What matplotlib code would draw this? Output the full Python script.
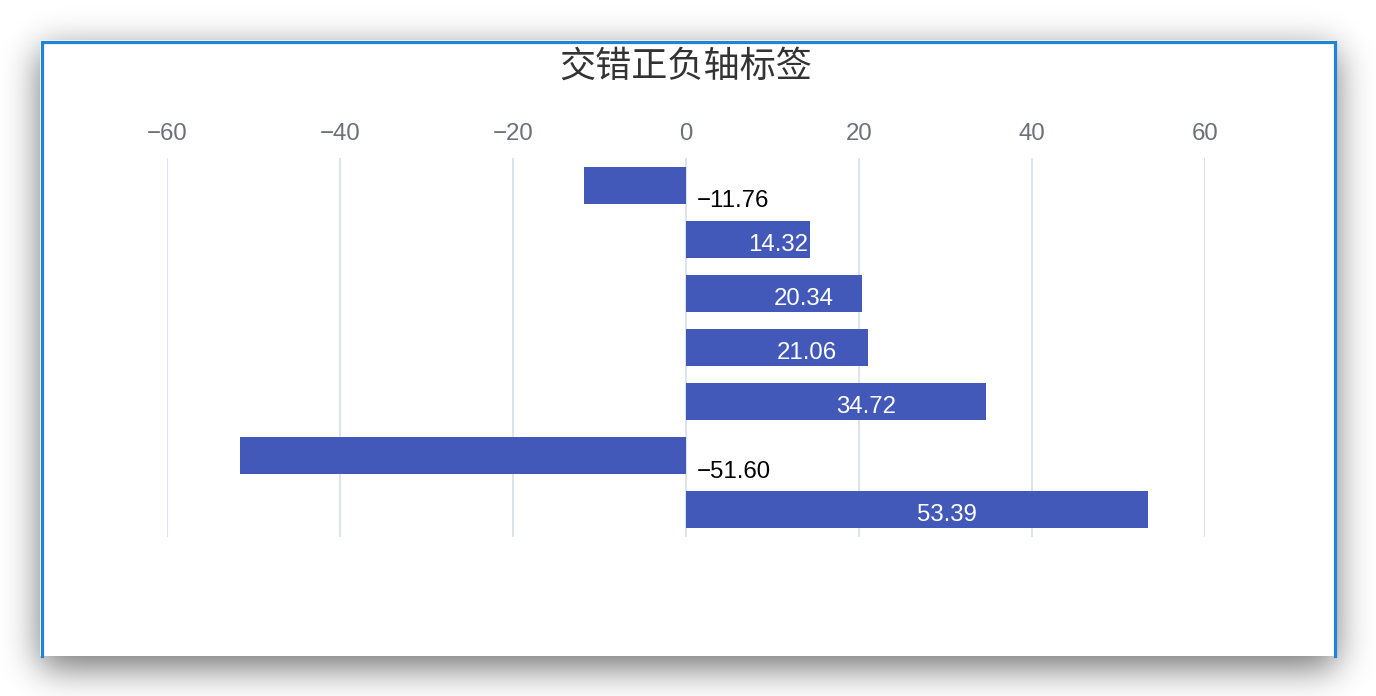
import math
import numpy as np
import matplotlib
matplotlib.use("Agg")
import matplotlib.pyplot as plt

# ---- data ----
values = [-11.76, 14.32, 20.34, 21.06, 34.72, -51.60, 53.39]
x_ticks = [-60, -40, -20, 0, 20, 40, 60]
title = "交错正负轴标签"

W, H = 1376, 696
fig = plt.figure(figsize=(W / 100, H / 100), dpi=100)
fig.patch.set_facecolor("white")

# ---- background: shadow + card ----
bg = fig.add_axes([0, 0, 1, 1])
bg.set_xlim(0, W)
bg.set_ylim(H, 0)
bg.axis("off")

erf = np.vectorize(math.erf)
def box1d(coords, lo, hi, sigma):
    return 0.5 * (erf((coords - lo) / (sigma * math.sqrt(2))) - erf((coords - hi) / (sigma * math.sqrt(2))))

xs = np.arange(W) + 0.5
ys = np.arange(H) + 0.5
fx = box1d(xs, 40, 1336, 18)
fy = box1d(ys, 50, 668, 18)
alpha = 0.55 * np.outer(fy, fx)
img = np.zeros((H, W, 4))
img[..., 3] = alpha
bg.imshow(img, extent=(0, W, H, 0), interpolation="bilinear", zorder=0)
bg.add_patch(plt.Rectangle((40, 40), 1296, 616, facecolor="white", edgecolor="none", zorder=1))
border = "#1f84d4"
bg.plot([41.5, 41.5, 1334.5, 1334.5], [656, 41.5, 41.5, 656], color=border, lw=2.3,
        solid_joinstyle="miter", zorder=2)

fig.text(686 / W, 1 - 67 / H, title, ha="center", va="center", fontsize=26,
         color="#333333", family=["Noto Sans CJK SC", "DejaVu Sans"])

# ---- chart ----
left, right = 167 / W, 1205 / W
top, bottom = 1 - 158 / H, 1 - 537 / H
ax = fig.add_axes([left, bottom, right - left, top - bottom])
ax.set_facecolor("none")

n = len(values)
pos = np.arange(n)
ax.barh(pos, values, height=0.685, color="#4259ba", zorder=3)
ax.set_xlim(-60, 60)
ax.set_ylim(n - 0.5, -0.5)

ax.set_xticks(x_ticks)
ax.set_xticklabels([str(t).replace("-", "\u2212") for t in x_ticks],
                   family=["Liberation Sans", "DejaVu Sans"], fontsize=17.3, color="#6e7079")
ax.xaxis.tick_top()
ax.tick_params(axis="x", length=0, pad=9.5)
ax.set_yticks([])
for s in ax.spines.values():
    s.set_visible(False)
ax.grid(axis="x", color="#dce3ee", linewidth=1.4, zorder=0)
ax.set_axisbelow(True)

for i, v in enumerate(values):
    txt = f"{v:.2f}".replace("-", "\u2212")
    if v >= 0:
        ax.annotate(txt, (v / 2, i), xytext=(0, -8.3), textcoords="offset points",
                    ha="left", va="baseline", color="white", fontsize=17.3,
                    family=["Liberation Sans", "DejaVu Sans"], zorder=4)
    else:
        ax.annotate(txt, (0, i), xytext=(7.5, -15.8), textcoords="offset points",
                    ha="left", va="baseline", color="black", fontsize=17.3,
                    family=["Liberation Sans", "DejaVu Sans"], zorder=4)

fig.savefig("out.png", dpi=100, facecolor="white")
